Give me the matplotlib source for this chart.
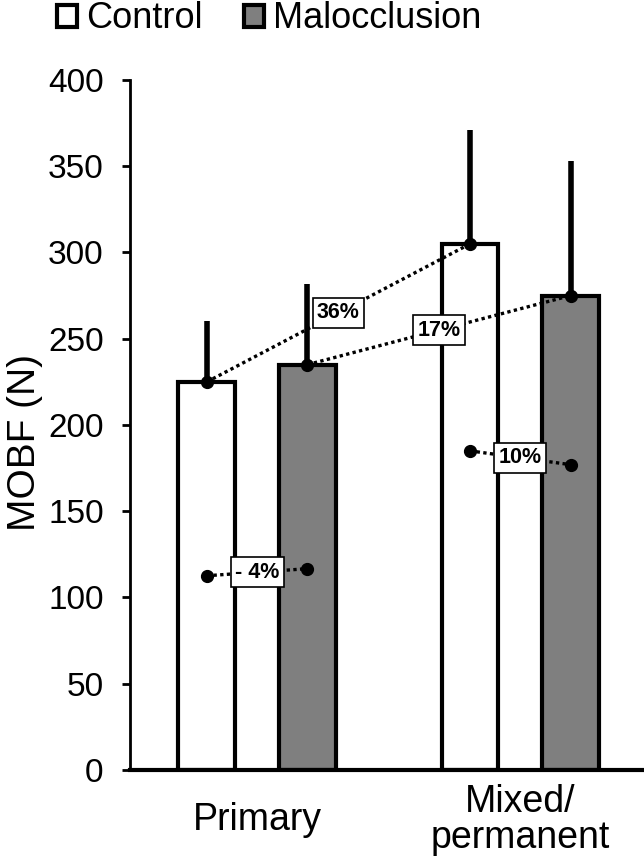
import matplotlib.pyplot as plt
import numpy as np

plt.rcParams['font.family'] = ['Liberation Sans', 'DejaVu Sans']

groups = ['Primary', 'Mixed/\npermanent']
control = [225, 305]
malocclusion = [235, 275]
control_sd = [35, 66]
malocclusion_sd = [47, 78]

# lower connector dots for the control vs malocclusion comparison
cmp_ctrl_y = [112.6, 185]
cmp_mal_y = [116.7, 177]
cmp_labels = ['- 4%', '10%']
# age change labels (control, malocclusion)
age_labels = ['36%', '17%']

x = np.arange(len(groups))
w = 0.216
off = 0.191

fig = plt.figure(figsize=(6.44, 8.63), dpi=100)
ax = fig.add_axes([0.2019, 0.1078, 0.7981, 0.7995])

xc = x - off
xm = x + off
ax.bar(xc, control, w, color='white', edgecolor='black', linewidth=3, zorder=2, label='Control')
ax.bar(xm, malocclusion, w, color='#7f7f7f', edgecolor='black', linewidth=3, zorder=2, label='Malocclusion')
ax.vlines(xc, control, np.add(control, control_sd), color='black', lw=4, zorder=1)
ax.vlines(xm, malocclusion, np.add(malocclusion, malocclusion_sd), color='black', lw=4, zorder=1)

dot = (0, (1, 1))
box = dict(boxstyle='square,pad=0.2', fc='white', ec='black', lw=1.2)

# change between age groups
for xs, ys, lab in [(xc, control, age_labels[0]), (xm, malocclusion, age_labels[1])]:
    ax.plot(xs, ys, color='black', ls=dot, lw=2.4, marker='o', ms=8.5, zorder=4)
    ax.text(np.mean(xs), np.mean(ys), lab, ha='center', va='center', fontsize=15.5,
            fontweight='bold', bbox=box, zorder=5)

# control vs malocclusion
for i in range(len(groups)):
    ax.plot([xc[i], xm[i]], [cmp_ctrl_y[i], cmp_mal_y[i]], color='black', ls=dot, lw=2.4,
            marker='o', ms=8.5, zorder=4)
    ax.text(x[i], (cmp_ctrl_y[i] + cmp_mal_y[i]) / 2, cmp_labels[i], ha='center', va='center',
            fontsize=15.5, fontweight='bold', bbox=box, zorder=5)

ax.set_ylim(0, 400)
ax.set_xlim(-0.483, 1.47)
ax.set_yticks(range(0, 401, 50))
ax.set_xticks(x)
ax.set_xticklabels(groups, fontsize=27, linespacing=1.0)
for t in ax.get_xticklabels():
    t.set_va('center')
ax.tick_params(axis='x', length=0, pad=36)
ax.tick_params(axis='y', labelsize=24, length=6, width=2, pad=13)
ax.spines['top'].set_visible(False)
ax.spines['right'].set_visible(False)
ax.spines['bottom'].set_linewidth(3)
ax.spines['left'].set_linewidth(2)
ax.set_ylabel('MOBF (N)', fontsize=28)
ax.yaxis.set_label_coords(-0.17, 0.475)

fig.legend(loc='center', bbox_to_anchor=(0.418, 0.978), ncol=2, frameon=False, fontsize=26,
           handlelength=0.55, handleheight=0.55, handletextpad=0.25, columnspacing=1.15,
           borderpad=0)

fig.savefig('out.png', dpi=100)
